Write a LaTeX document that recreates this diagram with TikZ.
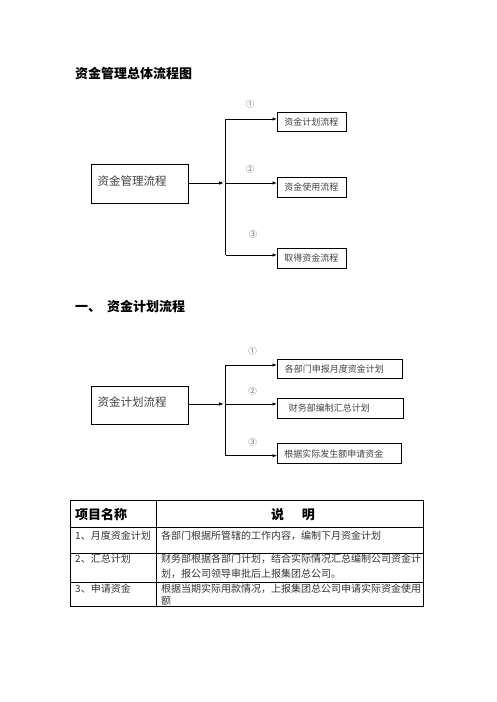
\documentclass[tikz,border=0pt]{standalone}
\usepackage{fontspec}
\setmainfont{Noto Sans CJK SC}
\usetikzlibrary{arrows.meta}
\newcommand{\liftup}[1]{\raisebox{3pt}[\height][\depth]{#1}}
\begin{document}
\begin{tikzpicture}[x=1pt,y=-1pt,
  box/.style={draw,line width=0.8pt,inner sep=0pt,anchor=north west},
  bigtxt/.style={font=\fontsize{11.5}{13}\selectfont,text=black!75},
  smalltxt/.style={font=\fontsize{9}{11}\selectfont,text=black!75},
  numtxt/.style={font=\fontsize{8.5}{10}\selectfont,text=black!60,inner sep=0pt},
  ttl/.style={font=\fontsize{13}{15}\selectfont\bfseries,anchor=west,inner sep=0pt},
  cell/.style={font=\fontsize{10}{12}\selectfont,text=black!80,anchor=west,inner sep=0pt},
  ln/.style={line width=0.8pt},
  arr/.style={line width=0.8pt,-{Latex[length=4.5pt,width=3.5pt]}}
]
\useasboundingbox (0,0) rectangle (496,702);

% ---------- title ----------
\node[ttl] (t1) at (75,73) {资金管理总体流程图};

% ---------- diagram 1 ----------
\node[box,minimum width=97pt,minimum height=39pt,text width=84pt,align=left,bigtxt,inner xsep=6.5pt] (m1) at (90.7,164) {\liftup{资金管理流程}};
\node[box,minimum width=69pt,minimum height=19pt,text width=55pt,align=left,inner xsep=7pt,smalltxt] (a1) at (277,112) {资金计划流程};
\node[box,minimum width=69pt,minimum height=20pt,text width=55pt,align=left,inner xsep=7pt,smalltxt] (a2) at (277,177) {资金使用流程};
\node[box,minimum width=69pt,minimum height=20pt,text width=55pt,align=left,inner xsep=7pt,smalltxt] (a3) at (277,248) {取得资金流程};
\coordinate (p1) at (225.7,119);
\coordinate (p2) at (225.7,183);
\coordinate (p3) at (225.7,255);
\node[numtxt] (n1) at (250,104) {①};
\node[numtxt] (n2) at (250,169) {②};
\node[numtxt] (n3) at (253,234) {③};
\draw[arr,shorten >=2pt] (m1.east |- p2) -- (p2);
\draw[ln] (p1) -- (p3);
\draw[arr] (p1) -- (p1 -| a1.west);
\draw[arr] (p2) -- (p2 -| a2.west);
\draw[arr] (p3) -- (p3 -| a3.west);

% ---------- heading ----------
\node[ttl] (t2) at (75,307) {一、\hspace{6pt}资金计划流程};

% ---------- diagram 2 ----------
\node[box,minimum width=97pt,minimum height=38.3pt,text width=84pt,align=left,bigtxt,inner xsep=6.5pt] (m2) at (90.7,385.7) {\liftup{资金计划流程}};
\node[box,minimum width=124.7pt,minimum height=19pt,text width=110pt,align=left,inner xsep=7pt,smalltxt] (b1) at (277,359) {各部门申报月度资金计划};
\node[box,minimum width=126pt,minimum height=19.7pt,text width=112pt,align=left,inner xsep=7pt,smalltxt] (b2) at (277,398) {\hspace{4.5pt}财务部编制汇总计划};
\node[box,minimum width=123.7pt,minimum height=20pt,text width=110pt,align=left,inner xsep=7pt,smalltxt] (b3) at (277,443.3) {根据实际发生额申请资金};
\coordinate (q1) at (225.7,365);
\coordinate (q2) at (225.7,404);
\coordinate (q3) at (225.7,455.7);
\node[numtxt] (k1) at (252.7,351.7) {①};
\node[numtxt] (k2) at (252.7,391.7) {②};
\node[numtxt] (k3) at (252.7,442.7) {③};
\draw[arr,shorten >=2pt] (m2.east |- q2) -- (q2);
\draw[ln] (q1) -- (q3);
\draw[arr] (q1) -- (q1 -| b1.west);
\draw[arr] (q2) -- (q2 -| b2.west);
\draw[arr] (q3) -- (q3 -| b3.west);

% ---------- table ----------
\draw[ln] (70.7,500) rectangle (423.3,606);
\draw[ln] (70.7,527.7) -- (423.3,527.7);
\draw[ln] (70.7,553.3) -- (423.3,553.3);
\draw[ln] (70.7,582.3) -- (423.3,582.3);
\draw[ln] (156.7,500) -- (156.7,606);
\node[ttl] (h1) at (75,515) {项目名称};
\node[ttl,anchor=center] (h2) at (293,515) {说\hspace{18pt}明};
\node[cell] (c11) at (75,535.7) {1、月度资金计划};
\node[cell] (c12) at (161,535.7) {各部门根据所管辖的工作内容，编制下月资金计划};
\node[cell] (c21) at (75,559) {2、汇总计划};
\node[cell] (c22) at (161,559) {财务部根据各部门计划，结合实际情况汇总编制公司资金计};
\node[cell] (c22b) at (161,573.3) {划，报公司领导审批后上报集团总公司。};
\node[cell] (c31) at (75,588.3) {3、申请资金};
\node[cell] (c32) at (161,588.3) {根据当期实际用款情况，上报集团总公司申请实际资金使用};
\node[cell] (c32b) at (161,600.5) {额};
\end{tikzpicture}
\end{document}
